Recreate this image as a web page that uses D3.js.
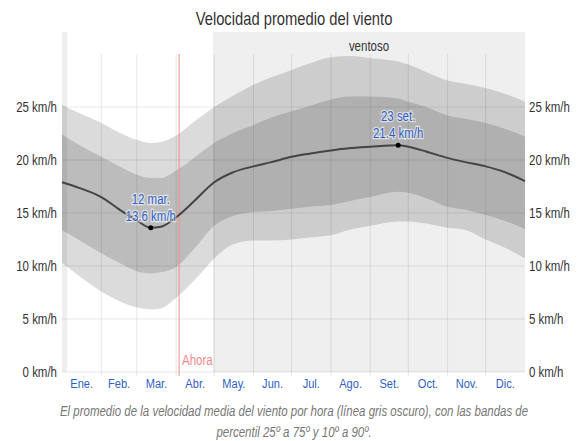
<!DOCTYPE html>
<html><head><meta charset="utf-8">
<script src="https://cdn.jsdelivr.net/npm/d3@7"></script>
<style>
html,body{margin:0;padding:0;background:#fff;}
svg{display:block;font-family:"Liberation Sans",Arial,sans-serif;}
</style></head>
<body><svg id="c" width="582" height="441"></svg>
<script>
// ---- data (day of year, km/h) ----
const days   = [0,14,31,45,59,70,78,90,104,120,134,151,165,181,195,212,226,243,265,273,287,304,318,334,348,365];
const mean   = [17.9,17.35,16.5,15.35,14.3,13.6,13.7,14.6,16.1,17.9,18.8,19.4,19.8,20.3,20.6,20.9,21.1,21.25,21.4,21.25,20.8,20.2,19.8,19.4,18.9,18.0];
const p75    = [22.4,21.4,20.3,19.4,18.6,18.3,18.3,19.0,20.2,21.6,22.5,23.3,24.0,24.6,25.1,25.7,26.0,26.0,25.8,25.5,25.0,24.2,23.9,23.5,23.0,22.2];
const p90    = [25.2,24.4,23.5,22.6,21.9,21.6,21.7,22.3,23.6,25.0,26.0,27.1,27.8,28.5,29.1,29.7,29.8,29.6,29.3,29.0,28.3,27.5,27.2,26.8,26.3,25.5];
const p25    = [13.4,12.4,11.2,10.3,9.5,9.3,9.4,9.9,11.6,13.8,14.7,15.1,15.2,15.4,15.6,15.75,16.1,16.5,17.0,16.9,16.4,15.6,15.3,14.8,14.3,13.5];
const p10    = [10.3,9.0,7.6,6.7,6.1,5.9,6.0,7.0,8.6,10.7,12.0,12.4,12.4,12.5,12.7,12.9,13.4,13.8,14.2,14.2,14.0,13.6,13.4,12.5,11.8,10.7];
const monthStarts = [0,31,59,90,120,151,181,212,243,273,304,334,365];
const monthLabels = ["Ene.","Feb.","Mar.","Abr.","May.","Jun.","Jul.","Ago.","Set.","Oct.","Nov.","Dic."];
const yTicks = [0,5,10,15,20,25];
const windy = [[0,4],[119,365]];
const nowDay = 92.3;
const annotations = [
  {day:70, value:13.6, l1:"12 mar.", l2:"13.6 km/h"},
  {day:265, value:21.4, l1:"23 set.", l2:"21.4 km/h"}
];
const title = "Velocidad promedio del viento";
const caption = ["El promedio de la velocidad media del viento por hora (línea gris oscuro), con las bandas de",
                 "percentil 25º a 75º y 10º a 90º."];

// ---- layout ----
const svg = d3.select("#c");
const x = d3.scaleLinear().domain([0,365]).range([62,525]);
const y = d3.scaleLinear().domain([0,30]).range([372,54]);
const SX = 0.82;
function txt(g, px, py, s, o) {
  o = o || {};
  return g.append("text")
    .attr("transform", `translate(${px},${py}) scale(${SX},1)`)
    .attr("text-anchor", o.anchor || "start")
    .attr("font-size", o.size || 14)
    .attr("font-style", o.italic ? "italic" : null)
    .attr("fill", o.fill || "#333")
    .text(s);
}

// windy season background
svg.selectAll("rect.windy").data(windy).join("rect").attr("class","windy")
  .attr("x", d => x(d[0])).attr("width", d => x(d[1]) - x(d[0]))
  .attr("y", 32).attr("height", 372 - 32).attr("fill", "#efefef");

const data = days.map((d,i) => ({d, m:mean[i], a:p10[i], b:p25[i], c:p75[i], e:p90[i]}));
const curve = d3.curveMonotoneX;
svg.append("path").datum(data)
  .attr("d", d3.area().x(d=>x(d.d)).y0(d=>y(d.a)).y1(d=>y(d.e)).curve(curve))
  .attr("fill", "rgba(0,0,0,0.14)");
svg.append("path").datum(data)
  .attr("d", d3.area().x(d=>x(d.d)).y0(d=>y(d.b)).y1(d=>y(d.c)).curve(curve))
  .attr("fill", "rgba(0,0,0,0.14)");

// grid
svg.selectAll("line.h").data(yTicks).join("line").attr("class","h")
  .attr("x1", 62).attr("x2", 525).attr("y1", d=>y(d)).attr("y2", d=>y(d))
  .attr("stroke", "rgba(0,0,0,0.09)").attr("stroke-width", 1);
svg.selectAll("line.v").data(monthStarts.slice(1,12)).join("line").attr("class","v")
  .attr("x1", d=>x(d)).attr("x2", d=>x(d)).attr("y1", y(30)).attr("y2", 376)
  .attr("stroke", "rgba(0,0,0,0.09)").attr("stroke-width", 1);

// now line
svg.append("line").attr("x1", x(nowDay)).attr("x2", x(nowDay)).attr("y1", y(30)).attr("y2", 376)
  .attr("stroke", "#f08a8a").attr("stroke-width", 1);
txt(svg, x(nowDay)+3, 365, "Ahora", {fill:"#f08a8a", size:14});

// mean line
svg.append("path").datum(data)
  .attr("d", d3.line().x(d=>x(d.d)).y(d=>y(d.m)).curve(curve))
  .attr("fill", "none").attr("stroke", "#444").attr("stroke-width", 2);

// annotations
annotations.forEach(a => {
  svg.append("circle").attr("cx", x(a.day)).attr("cy", y(a.value)).attr("r", 2.5).attr("fill", "#000");
  const t1 = txt(svg, x(a.day), y(a.value)-24, a.l1, {anchor:"middle", fill:"#2f5fc4"});
  const t2 = txt(svg, x(a.day), y(a.value)-7, a.l2, {anchor:"middle", fill:"#2f5fc4"});
  [t1,t2].forEach(t => t.attr("stroke","rgba(255,255,255,0.6)").attr("stroke-width",2.5).attr("paint-order","stroke"));
});

// y labels
yTicks.forEach(v => {
  txt(svg, 57, y(v)+5, v + " km/h", {anchor:"end"});
  txt(svg, 529, y(v)+5, v + " km/h", {anchor:"start"});
});

// month labels
monthLabels.forEach((m,i) => {
  txt(svg, x((monthStarts[i]+monthStarts[i+1])/2), 388, m, {anchor:"middle", size:13.5, fill:"#2f5fc4"});
});

// windy label
txt(svg, x((windy[1][0]+windy[1][1])/2), 51, "ventoso", {anchor:"middle"});

// title
txt(svg, 294, 25, title, {anchor:"middle", size:18, fill:"#333"});

// caption
caption.forEach((c,i) => {
  txt(svg, 294, 416 + i*21, c, {anchor:"middle", italic:true, fill:"#777", size:14});
});
</script></body></html>
